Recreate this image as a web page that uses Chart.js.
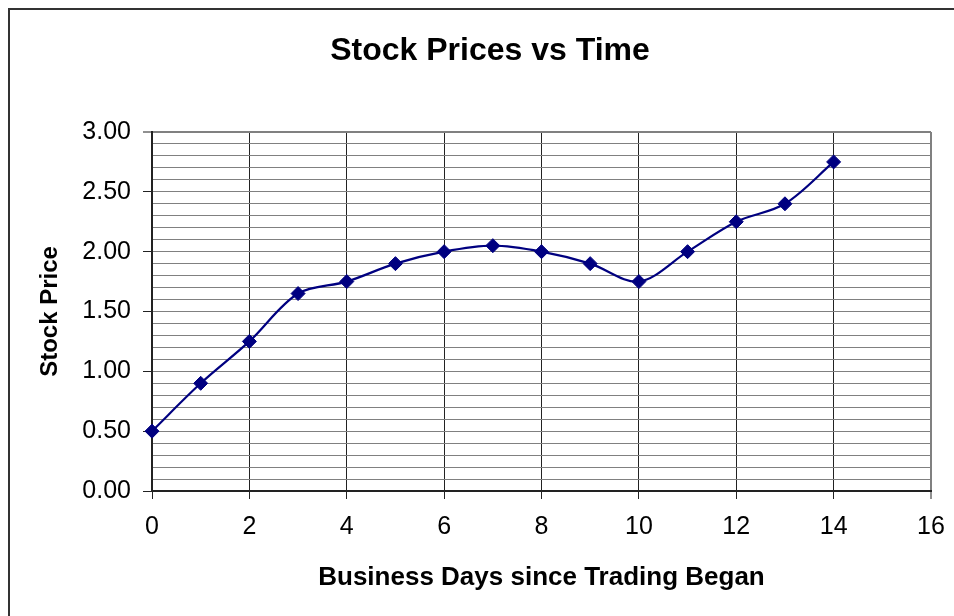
<!DOCTYPE html>
<html>
<head>
<meta charset="utf-8">
<script src="https://cdn.jsdelivr.net/npm/chart.js@4.4.1/dist/chart.umd.min.js"></script>
<style>
  html, body { margin: 0; padding: 0; background: #ffffff; }
  #wrap { position: relative; width: 954px; height: 616px; }
  canvas { display: block; }
</style>
</head>
<body>
<div id="wrap"><canvas id="c" width="954" height="616"></canvas></div>
<script>
// ---- data ----
const chartTitle = "Stock Prices vs Time";
const xAxisTitle = "Business Days since Trading Began";
const yAxisTitle = "Stock Price";
const days   = [0, 1, 2, 3, 4, 5, 6, 7, 8, 9, 10, 11, 12, 13, 14];
const prices = [0.50, 0.90, 1.25, 1.65, 1.75, 1.90, 2.00, 2.05, 2.00, 1.90, 1.75, 2.00, 2.25, 2.40, 2.75];
const xMin = 0, xMax = 16, xStep = 2;
const yMin = 0, yMax = 3, yMinorStep = 0.1, yMajorStep = 0.5;

const FONT = "'Liberation Sans', Arial, sans-serif";

const isMajorY = v => Math.abs(v / yMajorStep - Math.round(v / yMajorStep)) < 1e-6;

const framePlugin = {
  id: 'frame',
  beforeDraw(chart) {
    const ctx = chart.ctx;
    ctx.save();
    ctx.fillStyle = '#ffffff';
    ctx.fillRect(0, 0, chart.width, chart.height);
    ctx.strokeStyle = '#333333';
    ctx.lineWidth = 2;
    ctx.beginPath();
    ctx.moveTo(9, chart.height + 5);
    ctx.lineTo(9, 9);
    ctx.lineTo(chart.width + 5, 9);
    ctx.stroke();
    ctx.restore();
  },
  afterDraw(chart) {
    const ctx = chart.ctx;
    ctx.save();
    ctx.fillStyle = '#000000';
    ctx.font = "bold 32px " + FONT;
    ctx.textAlign = 'center';
    ctx.textBaseline = 'middle';
    ctx.fillText(chartTitle, 490, 51);
    ctx.restore();
  }
};

new Chart(document.getElementById('c'), {
  type: 'line',
  data: {
    datasets: [{
      data: days.map((d, i) => ({ x: d, y: prices[i] })),
      borderColor: '#000080',
      backgroundColor: '#000080',
      borderWidth: 2.2,
      pointStyle: 'rectRot',
      pointRadius: 7,
      pointBorderWidth: 1,
      pointBackgroundColor: '#000080',
      pointBorderColor: '#000080',
      tension: 0.33,
      fill: false,
      clip: false
    }]
  },
  options: {
    responsive: false,
    animation: false,
    devicePixelRatio: 1,
    layout: { padding: { left: 36, top: 132, right: 23, bottom: 0 } },
    plugins: {
      legend: { display: false },
      title: { display: false },
      tooltip: { enabled: false }
    },
    scales: {
      x: {
        type: 'linear',
        min: xMin, max: xMax,
        afterFit(scale) { scale.height = 125; scale.paddingRight = 0; scale.paddingLeft = 0; },
        ticks: {
          stepSize: xStep,
          color: '#000000',
          font: { family: FONT, size: 25 },
          padding: 13,
          maxRotation: 0,
          autoSkip: false
        },
        grid: {
          color: ctx => (ctx.tick && ctx.tick.value === xMax) ? '#808080' : '#222222',
          lineWidth: ctx => (ctx.tick && ctx.tick.value === xMax) ? 2 : 1,
          tickLength: 8,
          tickColor: '#222222',
          tickWidth: 1
        },
        border: { display: true, color: '#222222', width: 2 },
        title: {
          display: true,
          text: xAxisTitle,
          color: '#000000',
          font: { family: FONT, size: 26, weight: 'bold' },
          padding: { top: 0, bottom: 23 }
        }
      },
      y: {
        type: 'linear',
        min: yMin, max: yMax,
        afterFit(scale) { scale.width = 116; },
        ticks: {
          stepSize: yMinorStep,
          autoSkip: false,
          color: '#000000',
          font: { family: FONT, size: 25 },
          padding: 12,
          callback: v => isMajorY(v) ? Number(v).toFixed(2) : ''
        },
        grid: {
          color: '#808080',
          lineWidth: ctx => (ctx.tick && Math.abs(ctx.tick.value - yMax) < 1e-6) ? 2 : 1,
          tickLength: 9,
          tickColor: ctx => (ctx.tick && isMajorY(ctx.tick.value)) ? '#222222' : 'rgba(0,0,0,0)',
          tickWidth: 1
        },
        border: { display: true, color: '#222222', width: 2 },
        title: {
          display: true,
          text: yAxisTitle,
          color: '#000000',
          font: { family: FONT, size: 24, weight: 'bold' },
          padding: { top: 0, bottom: 0 }
        }
      }
    }
  },
  plugins: [framePlugin]
});
</script>
</body>
</html>
